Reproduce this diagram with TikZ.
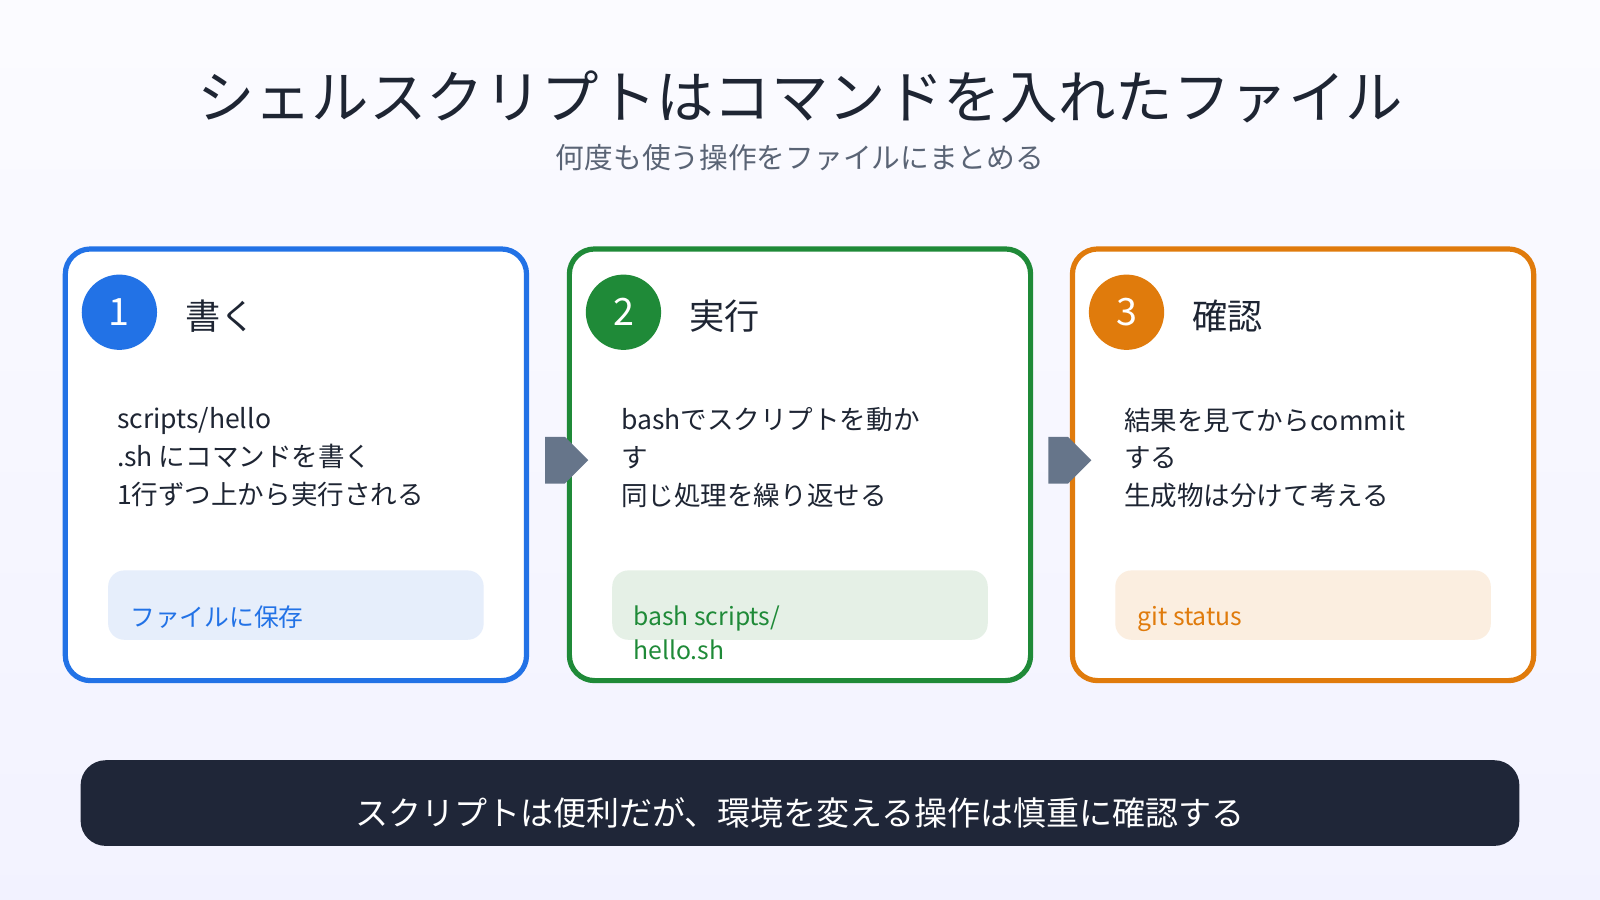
\documentclass[tikz,border=0pt]{standalone}
\usepackage{fontspec}
\setmainfont{Noto Sans CJK JP}
\usetikzlibrary{shapes.arrows}
\definecolor{cblue}{HTML}{2272E6}
\definecolor{cgreen}{HTML}{1F8A38}
\definecolor{corange}{HTML}{E07B0C}
\definecolor{fblue}{HTML}{E6EEFB}
\definecolor{fgreen}{HTML}{E5F0E6}
\definecolor{forange}{HTML}{FBEEE0}
\definecolor{ink}{HTML}{1E2533}
\definecolor{sub}{HTML}{5A6475}
\definecolor{arr}{HTML}{66758A}
\definecolor{bar}{HTML}{1F2638}
\tikzset{
 card/.style={draw=#1,line width=1.45pt,fill=white,rounded corners=7pt},
 num/.style={circle,fill=#1,text=white,minimum size=74*0.2835pt,inner sep=0pt,font=\fontsize{10.5pt}{12pt}\selectfont},
 head/.style={anchor=west,text=ink,font=\fontsize{9.8pt}{12pt}\selectfont},
 body/.style={anchor=north west,text=ink,align=left,font=\fontsize{7.4pt}{10.5pt}\selectfont,inner sep=0pt},
 tag/.style={fill=#1,rounded corners=4.5pt},
 tagt/.style={anchor=north west,align=left,inner sep=0pt,font=\fontsize{6.9pt}{9.4pt}\selectfont},
 flow/.style={single arrow,fill=arr,minimum width=13pt,single arrow head extend=0pt,minimum height=12pt,inner sep=0pt,single arrow tip angle=90}
}
\begin{document}
\begin{tikzpicture}[x=0.01cm,y=-0.01cm]
\shade[top color=white!50!blue!3,bottom color=blue!5!white] (0,0) rectangle (1568,882);
\useasboundingbox (0,0) rectangle (1568,882);
\node (title) at (784,95) {\fontsize{16pt}{18pt}\selectfont\color{ink}シェルスクリプトはコマンドを入れたファイル};
\node (subt) at (784,154) {\fontsize{8pt}{10pt}\selectfont\color{sub}何度も使う操作をファイルにまとめる};
% cards
\foreach \x/\c/\f/\n/\h [count=\i] in {64/cblue/fblue/1/書く,558/cgreen/fgreen/2/実行,1051/corange/forange/3/確認}{
  \draw[card=\c] (\x,244) rectangle ++(452,423);
  \node[num=\c] (n\i) at (\x+53,306) {\n};
  \node[head] (h\i) at (\x+105,310) {\h};
  \fill[tag=\f] (\x+42,559) rectangle ++(368,68);
}
\node[body] (b1) at (114,399) {scripts/hello\\.sh にコマンドを書く\\1行ずつ上から実行される};
\node[body] (b2) at (608,399) {bashでスクリプトを動か\\す\\同じ処理を繰り返せる};
\node[body] (b3) at (1101,399) {結果を見てからcommit\\する\\生成物は分けて考える};
\node[tagt,text=cblue] (t1) at (127,593) {ファイルに保存};
\node[tagt,text=cgreen] (t2) at (620,593) {bash scripts/\\hello.sh};
\node[tagt,text=corange] (t3) at (1114,593) {git status};
\node[flow] (a1) at (544,451) {};
\node[flow] (a2) at (1037,451) {};
\fill[bar,rounded corners=7pt] (79,745) rectangle (1489,829);
\node[text=white,font=\fontsize{9.2pt}{11pt}\selectfont] (msg) at (784,797) {スクリプトは便利だが、環境を変える操作は慎重に確認する};
\end{tikzpicture}
\end{document}
